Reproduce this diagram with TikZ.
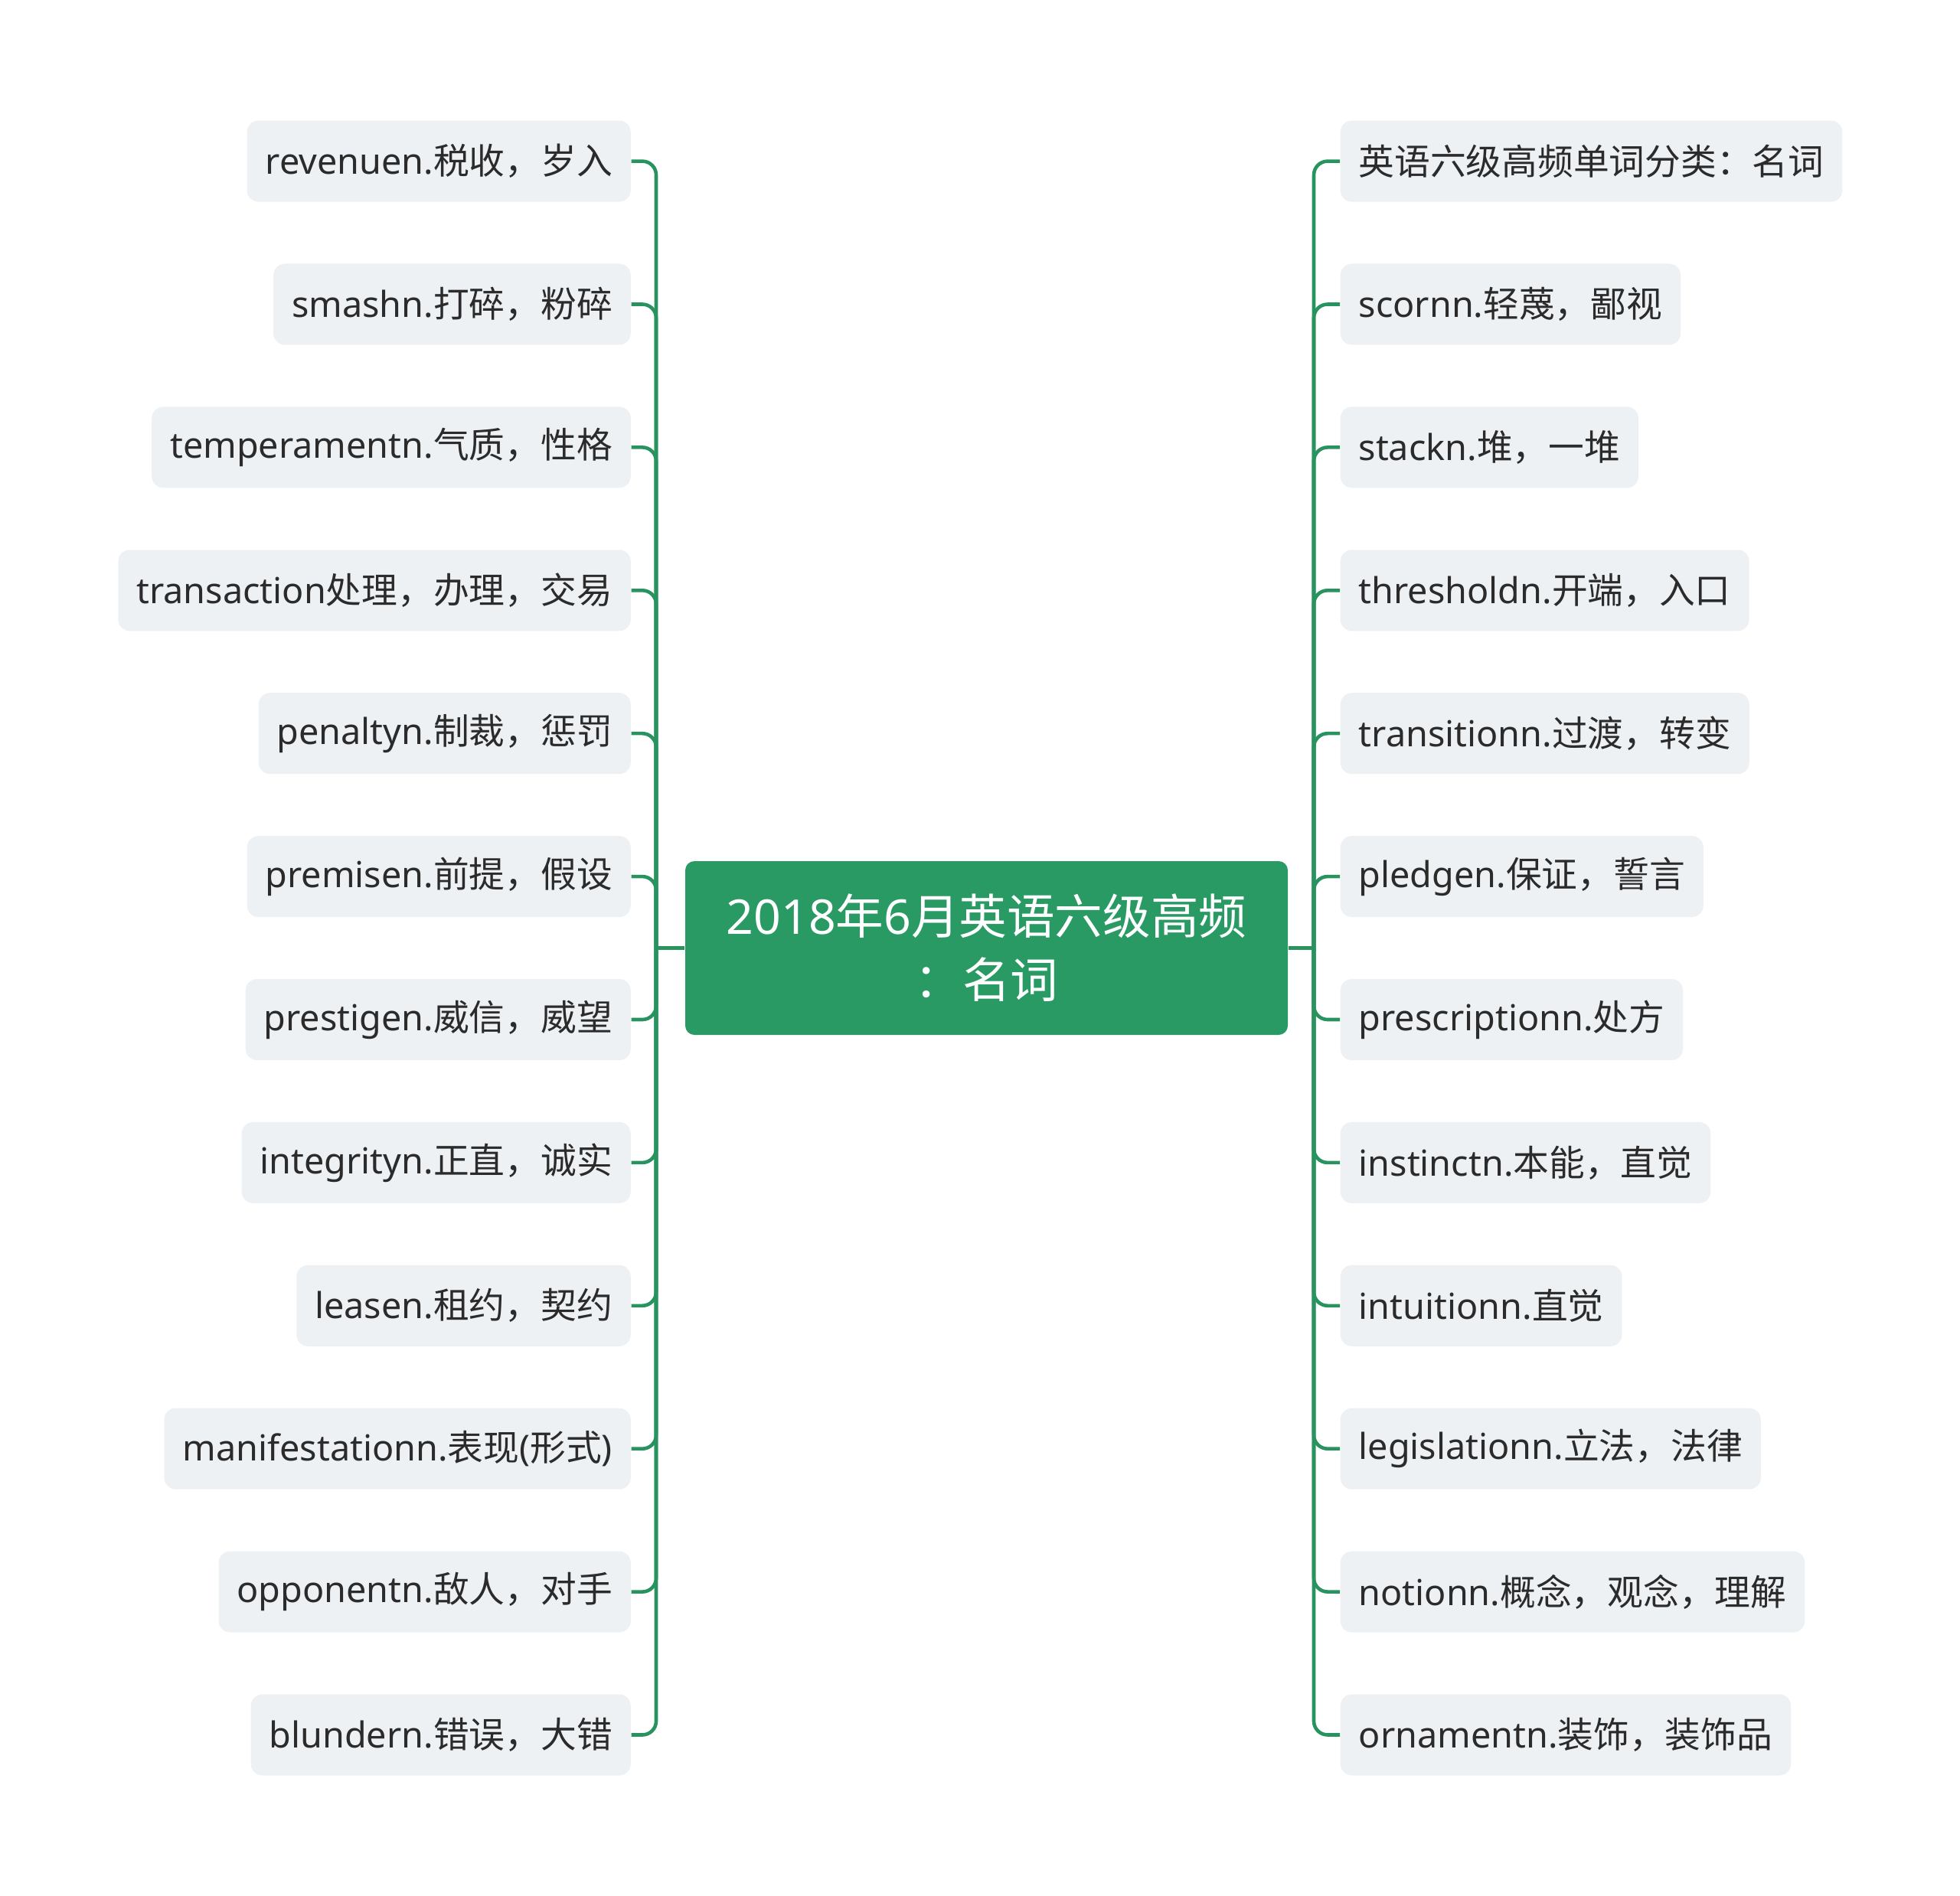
\documentclass[tikz,border=0pt]{standalone}
\usepackage{fontspec}
\setmainfont{Noto Sans}
\newfontfamily\cjkfont{Noto Sans CJK SC}
\newcommand\cj[1]{{\cjkfont #1}}
\definecolor{mmgreen}{HTML}{2A9A64}
\definecolor{mmline}{HTML}{28935F}
\definecolor{leaffill}{HTML}{EEF1F4}
\definecolor{leaftext}{HTML}{2B2B2B}
\tikzset{
  leaf/.style={fill=leaffill, rounded corners=0.15cm, minimum height=1.06cm,
    inner xsep=0.24cm, inner ysep=0pt, text=leaftext,
    font=\fontsize{13.3}{16}\selectfont},
  lleaf/.style={leaf, anchor=east},
  rleaf/.style={leaf, anchor=west},
  rootbox/.style={fill=mmgreen, rounded corners=0.12cm, minimum width=7.87cm,
    minimum height=2.27cm, text=white, align=center,
    font=\fontsize{17.8}{23.6}\selectfont},
  conn/.style={draw=mmline, line width=1.3pt, rounded corners=0.18cm}
}
\begin{document}
\begin{tikzpicture}
\useasboundingbox (0,0) rectangle (25.6,-24.77);
\node[rootbox] (c) at (12.885,-12.385) {2018\cj{年}6\cj{月英语六级高频}\\\cj{：名词}};
\coordinate (lb) at (8.57,-12.385);
\coordinate (rb) at (17.16,-12.385);
% left leaves
\node[lleaf] (L1) at (8.245,-2.106) {revenuen.\cj{税收，岁入}};
\node[lleaf] (L2) at (8.245,-3.975) {smashn.\cj{打碎，粉碎}};
\node[lleaf] (L3) at (8.245,-5.844) {temperamentn.\cj{气质，性格}};
\node[lleaf] (L4) at (8.245,-7.713) {transaction\cj{处理，办理，交易}};
\node[lleaf] (L5) at (8.245,-9.582) {penaltyn.\cj{制裁，惩罚}};
\node[lleaf] (L6) at (8.245,-11.451) {premisen.\cj{前提，假设}};
\node[lleaf] (L7) at (8.245,-13.320) {prestigen.\cj{威信，威望}};
\node[lleaf] (L8) at (8.245,-15.189) {integrityn.\cj{正直，诚实}};
\node[lleaf] (L9) at (8.245,-17.058) {leasen.\cj{租约，契约}};
\node[lleaf] (L10) at (8.245,-18.927) {manifestationn.\cj{表现}(\cj{形式})};
\node[lleaf] (L11) at (8.245,-20.796) {opponentn.\cj{敌人，对手}};
\node[lleaf] (L12) at (8.245,-22.665) {blundern.\cj{错误，大错}};
% right leaves
\node[rleaf] (R1) at (17.50,-2.106) {\cj{英语六级高频单词分类：名词}};
\node[rleaf] (R2) at (17.50,-3.975) {scornn.\cj{轻蔑，鄙视}};
\node[rleaf] (R3) at (17.50,-5.844) {stackn.\cj{堆，一堆}};
\node[rleaf] (R4) at (17.50,-7.713) {thresholdn.\cj{开端，入口}};
\node[rleaf] (R5) at (17.50,-9.582) {transitionn.\cj{过渡，转变}};
\node[rleaf] (R6) at (17.50,-11.451) {pledgen.\cj{保证，誓言}};
\node[rleaf] (R7) at (17.50,-13.320) {prescriptionn.\cj{处方}};
\node[rleaf] (R8) at (17.50,-15.189) {instinctn.\cj{本能，直觉}};
\node[rleaf] (R9) at (17.50,-17.058) {intuitionn.\cj{直觉}};
\node[rleaf] (R10) at (17.50,-18.927) {legislationn.\cj{立法，法律}};
\node[rleaf] (R11) at (17.50,-20.796) {notionn.\cj{概念，观念，理解}};
\node[rleaf] (R12) at (17.50,-22.665) {ornamentn.\cj{装饰，装饰品}};
% connectors
\draw[conn] (c.west) -- (lb);
\draw[conn] (c.east) -- (rb);
\foreach \i in {1,...,12} {
  \draw[conn] (lb) |- (L\i.east);
  \draw[conn] (rb) |- (R\i.west);
}
\end{tikzpicture}
\end{document}
